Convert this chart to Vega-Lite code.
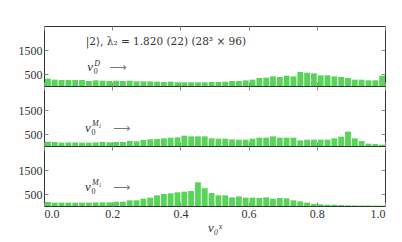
{
  "$schema": "https://vega.github.io/schema/vega-lite/v6.json",
  "padding": {"left": 5, "top": 25, "right": 18, "bottom": 5},
  "background": "white",
  "datasets": {
    "hist": [
      {"p":"D","x":0.00,"x2":0.02,"c":305},{"p":"D","x":0.02,"x2":0.04,"c":264},{"p":"D","x":0.04,"x2":0.06,"c":250},{"p":"D","x":0.06,"x2":0.08,"c":250},{"p":"D","x":0.08,"x2":0.10,"c":250},
      {"p":"D","x":0.10,"x2":0.12,"c":250},{"p":"D","x":0.12,"x2":0.14,"c":208},{"p":"D","x":0.14,"x2":0.16,"c":236},{"p":"D","x":0.16,"x2":0.18,"c":222},{"p":"D","x":0.18,"x2":0.20,"c":208},
      {"p":"D","x":0.20,"x2":0.22,"c":222},{"p":"D","x":0.22,"x2":0.24,"c":208},{"p":"D","x":0.24,"x2":0.26,"c":222},{"p":"D","x":0.26,"x2":0.28,"c":195},{"p":"D","x":0.28,"x2":0.30,"c":195},
      {"p":"D","x":0.30,"x2":0.32,"c":195},{"p":"D","x":0.32,"x2":0.34,"c":180},{"p":"D","x":0.34,"x2":0.36,"c":167},{"p":"D","x":0.36,"x2":0.38,"c":180},{"p":"D","x":0.38,"x2":0.40,"c":153},
      {"p":"D","x":0.40,"x2":0.42,"c":153},{"p":"D","x":0.42,"x2":0.44,"c":153},{"p":"D","x":0.44,"x2":0.46,"c":153},{"p":"D","x":0.46,"x2":0.48,"c":153},{"p":"D","x":0.48,"x2":0.50,"c":167},
      {"p":"D","x":0.50,"x2":0.52,"c":167},{"p":"D","x":0.52,"x2":0.54,"c":180},{"p":"D","x":0.54,"x2":0.56,"c":208},{"p":"D","x":0.56,"x2":0.58,"c":208},{"p":"D","x":0.58,"x2":0.60,"c":236},
      {"p":"D","x":0.60,"x2":0.62,"c":264},{"p":"D","x":0.62,"x2":0.64,"c":333},{"p":"D","x":0.64,"x2":0.66,"c":347},{"p":"D","x":0.66,"x2":0.68,"c":400},{"p":"D","x":0.68,"x2":0.70,"c":375},
      {"p":"D","x":0.70,"x2":0.72,"c":430},{"p":"D","x":0.72,"x2":0.74,"c":400},{"p":"D","x":0.74,"x2":0.76,"c":583},{"p":"D","x":0.76,"x2":0.78,"c":555},{"p":"D","x":0.78,"x2":0.80,"c":528},
      {"p":"D","x":0.80,"x2":0.82,"c":444},{"p":"D","x":0.82,"x2":0.84,"c":444},{"p":"D","x":0.84,"x2":0.86,"c":400},{"p":"D","x":0.86,"x2":0.88,"c":375},{"p":"D","x":0.88,"x2":0.90,"c":333},
      {"p":"D","x":0.90,"x2":0.92,"c":264},{"p":"D","x":0.92,"x2":0.94,"c":264},{"p":"D","x":0.94,"x2":0.96,"c":236},{"p":"D","x":0.96,"x2":0.98,"c":236},{"p":"D","x":0.98,"x2":1.00,"c":430},

      {"p":"A","x":0.00,"x2":0.02,"c":180},{"p":"A","x":0.02,"x2":0.04,"c":167},{"p":"A","x":0.04,"x2":0.06,"c":140},{"p":"A","x":0.06,"x2":0.08,"c":150},{"p":"A","x":0.08,"x2":0.10,"c":150},
      {"p":"A","x":0.10,"x2":0.12,"c":140},{"p":"A","x":0.12,"x2":0.14,"c":140},{"p":"A","x":0.14,"x2":0.16,"c":150},{"p":"A","x":0.16,"x2":0.18,"c":167},{"p":"A","x":0.18,"x2":0.20,"c":150},
      {"p":"A","x":0.20,"x2":0.22,"c":167},{"p":"A","x":0.22,"x2":0.24,"c":167},{"p":"A","x":0.24,"x2":0.26,"c":208},{"p":"A","x":0.26,"x2":0.28,"c":195},{"p":"A","x":0.28,"x2":0.30,"c":250},
      {"p":"A","x":0.30,"x2":0.32,"c":278},{"p":"A","x":0.32,"x2":0.34,"c":292},{"p":"A","x":0.34,"x2":0.36,"c":320},{"p":"A","x":0.36,"x2":0.38,"c":347},{"p":"A","x":0.38,"x2":0.40,"c":360},
      {"p":"A","x":0.40,"x2":0.42,"c":430},{"p":"A","x":0.42,"x2":0.44,"c":400},{"p":"A","x":0.44,"x2":0.46,"c":400},{"p":"A","x":0.46,"x2":0.48,"c":400},{"p":"A","x":0.48,"x2":0.50,"c":320},
      {"p":"A","x":0.50,"x2":0.52,"c":305},{"p":"A","x":0.52,"x2":0.54,"c":305},{"p":"A","x":0.54,"x2":0.56,"c":278},{"p":"A","x":0.56,"x2":0.58,"c":264},{"p":"A","x":0.58,"x2":0.60,"c":264},
      {"p":"A","x":0.60,"x2":0.62,"c":305},{"p":"A","x":0.62,"x2":0.64,"c":347},{"p":"A","x":0.64,"x2":0.66,"c":347},{"p":"A","x":0.66,"x2":0.68,"c":400},{"p":"A","x":0.68,"x2":0.70,"c":347},
      {"p":"A","x":0.70,"x2":0.72,"c":347},{"p":"A","x":0.72,"x2":0.74,"c":347},{"p":"A","x":0.74,"x2":0.76,"c":236},{"p":"A","x":0.76,"x2":0.78,"c":264},{"p":"A","x":0.78,"x2":0.80,"c":264},
      {"p":"A","x":0.80,"x2":0.82,"c":264},{"p":"A","x":0.82,"x2":0.84,"c":264},{"p":"A","x":0.84,"x2":0.86,"c":320},{"p":"A","x":0.86,"x2":0.88,"c":390},{"p":"A","x":0.88,"x2":0.90,"c":600},
      {"p":"A","x":0.90,"x2":0.92,"c":320},{"p":"A","x":0.92,"x2":0.94,"c":208},{"p":"A","x":0.94,"x2":0.96,"c":97},{"p":"A","x":0.96,"x2":0.98,"c":83},{"p":"A","x":0.98,"x2":1.00,"c":55},

      {"p":"B","x":0.00,"x2":0.02,"c":167},{"p":"B","x":0.02,"x2":0.04,"c":140},{"p":"B","x":0.04,"x2":0.06,"c":140},{"p":"B","x":0.06,"x2":0.08,"c":140},{"p":"B","x":0.08,"x2":0.10,"c":140},
      {"p":"B","x":0.10,"x2":0.12,"c":140},{"p":"B","x":0.12,"x2":0.14,"c":140},{"p":"B","x":0.14,"x2":0.16,"c":150},{"p":"B","x":0.16,"x2":0.18,"c":150},{"p":"B","x":0.18,"x2":0.20,"c":150},
      {"p":"B","x":0.20,"x2":0.22,"c":180},{"p":"B","x":0.22,"x2":0.24,"c":180},{"p":"B","x":0.24,"x2":0.26,"c":236},{"p":"B","x":0.26,"x2":0.28,"c":236},{"p":"B","x":0.28,"x2":0.30,"c":305},
      {"p":"B","x":0.30,"x2":0.32,"c":347},{"p":"B","x":0.32,"x2":0.34,"c":444},{"p":"B","x":0.34,"x2":0.36,"c":500},{"p":"B","x":0.36,"x2":0.38,"c":528},{"p":"B","x":0.38,"x2":0.40,"c":570},
      {"p":"B","x":0.40,"x2":0.42,"c":597},{"p":"B","x":0.42,"x2":0.44,"c":625},{"p":"B","x":0.44,"x2":0.46,"c":986},{"p":"B","x":0.46,"x2":0.48,"c":740},{"p":"B","x":0.48,"x2":0.50,"c":540},
      {"p":"B","x":0.50,"x2":0.52,"c":445},{"p":"B","x":0.52,"x2":0.54,"c":445},{"p":"B","x":0.54,"x2":0.56,"c":360},{"p":"B","x":0.56,"x2":0.58,"c":400},{"p":"B","x":0.58,"x2":0.60,"c":347},
      {"p":"B","x":0.60,"x2":0.62,"c":347},{"p":"B","x":0.62,"x2":0.64,"c":333},{"p":"B","x":0.64,"x2":0.66,"c":360},{"p":"B","x":0.66,"x2":0.68,"c":305},{"p":"B","x":0.68,"x2":0.70,"c":333},
      {"p":"B","x":0.70,"x2":0.72,"c":320},{"p":"B","x":0.72,"x2":0.74,"c":236},{"p":"B","x":0.74,"x2":0.76,"c":195},{"p":"B","x":0.76,"x2":0.78,"c":140},{"p":"B","x":0.78,"x2":0.80,"c":83},
      {"p":"B","x":0.80,"x2":0.82,"c":70},{"p":"B","x":0.82,"x2":0.84,"c":55},{"p":"B","x":0.84,"x2":0.86,"c":55},{"p":"B","x":0.86,"x2":0.88,"c":40},{"p":"B","x":0.88,"x2":0.90,"c":30},
      {"p":"B","x":0.90,"x2":0.92,"c":25},{"p":"B","x":0.92,"x2":0.94,"c":20},{"p":"B","x":0.94,"x2":0.96,"c":20},{"p":"B","x":0.96,"x2":0.98,"c":15},{"p":"B","x":0.98,"x2":1.00,"c":15}
    ],
    "labels": [
      {"p":"D","x":0.127,"y":780,"v":"v","sub":"0","sup":"D","arrow":"⟶"},
      {"p":"A","x":0.120,"y":767,"v":"v","sub":"0","sup":"M₁","arrow":"⟶"},
      {"p":"B","x":0.120,"y":790,"v":"v","sub":"0","sup":"M₁","arrow":"⟶"}
    ],
    "title": [
      {"x":0.1225,"y":1820,"t":"|2⟩,  λ₂ = 1.820 (22)  (28³ × 96)"}
    ]
  },
  "vconcat": [
    {
      "width": 341, "height": 60,
      "layer": [
        {
          "data": {"name": "hist"},
          "transform": [{"filter": "datum.p === 'D'"}],
          "mark": {"type": "bar", "color": "#58d458"},
          "encoding": {
            "x": {"field": "x", "type": "quantitative", "bin": {"binned": true, "step": 0.02}, "scale": {"domain": [0, 1], "nice": false},
                  "axis": {"orient": "bottom", "values": [0, 0.2, 0.4, 0.6, 0.8, 1], "labels": false, "title": null, "minExtent": 0, "maxExtent": 0}},
            "x2": {"field": "x2"},
            "y": {"field": "c", "type": "quantitative", "scale": {"domain": [0, 2500], "nice": false},
                  "axis": {"orient": "left", "values": [500, 1500], "format": "d", "title": null, "minExtent": 38, "maxExtent": 38}}
          }
        },
        {
          "data": {"name": "hist"},
          "transform": [{"filter": "datum.p === 'D'"}],
          "mark": {"type": "point", "opacity": 0},
          "encoding": {
            "x": {"field": "x", "type": "quantitative", "axis": {"orient": "top", "values": [0, 0.2, 0.4, 0.6, 0.8, 1], "labels": false, "title": null, "minExtent": 0, "maxExtent": 0}},
            "y": {"field": "c", "type": "quantitative", "axis": {"orient": "right", "values": [500, 1500], "labels": false, "title": null, "minExtent": 0, "maxExtent": 0}}
          }
        },
        {
          "data": {"name": "title"},
          "mark": {"type": "text", "align": "left", "baseline": "middle", "font": "DejaVu Serif", "fontSize": 10.5, "color": "#333"},
          "encoding": {
            "x": {"field": "x", "type": "quantitative", "axis": null},
            "y": {"field": "y", "type": "quantitative", "axis": null},
            "text": {"field": "t"}
          }
        },
        {
          "data": {"name": "labels"},
          "transform": [{"filter": "datum.p === 'D'"}],
          "layer": [
            {"mark": {"type": "text", "align": "left", "baseline": "middle", "font": "Liberation Serif", "fontStyle": "italic", "fontSize": 13, "color": "#333"},
             "encoding": {"text": {"field": "v"}}},
            {"mark": {"type": "text", "align": "left", "baseline": "middle", "font": "Liberation Serif", "fontSize": 8, "color": "#333", "dx": 6.5, "dy": 5},
             "encoding": {"text": {"field": "sub"}}},
            {"mark": {"type": "text", "align": "left", "baseline": "middle", "font": "Liberation Serif", "fontStyle": "italic", "fontSize": 8, "color": "#333", "dx": 7, "dy": -3.5},
             "encoding": {"text": {"field": "sup"}}},
            {"mark": {"type": "text", "align": "left", "baseline": "middle", "font": "DejaVu Sans", "fontSize": 12, "color": "#777", "dx": 22},
             "encoding": {"text": {"field": "arrow"}}}
          ],
          "encoding": {
            "x": {"field": "x", "type": "quantitative", "axis": null},
            "y": {"field": "y", "type": "quantitative", "axis": null}
          }
        }
      ],
      "resolve": {"axis": {"x": "independent", "y": "independent"}}
    },
    {
      "width": 341, "height": 60,
      "layer": [
        {
          "data": {"name": "hist"},
          "transform": [{"filter": "datum.p === 'A'"}],
          "mark": {"type": "bar", "color": "#58d458"},
          "encoding": {
            "x": {"field": "x", "type": "quantitative", "bin": {"binned": true, "step": 0.02}, "scale": {"domain": [0, 1], "nice": false},
                  "axis": {"orient": "bottom", "values": [0, 0.2, 0.4, 0.6, 0.8, 1], "labels": false, "title": null, "minExtent": 0, "maxExtent": 0}},
            "x2": {"field": "x2"},
            "y": {"field": "c", "type": "quantitative", "scale": {"domain": [0, 2500], "nice": false},
                  "axis": {"orient": "left", "values": [500, 1500], "format": "d", "title": null, "minExtent": 38, "maxExtent": 38}}
          }
        },
        {
          "data": {"name": "hist"},
          "transform": [{"filter": "datum.p === 'A'"}],
          "mark": {"type": "point", "opacity": 0},
          "encoding": {
            "x": {"field": "x", "type": "quantitative", "axis": {"orient": "top", "values": [0, 0.2, 0.4, 0.6, 0.8, 1], "labels": false, "title": null, "minExtent": 0, "maxExtent": 0}},
            "y": {"field": "c", "type": "quantitative", "axis": {"orient": "right", "values": [500, 1500], "labels": false, "title": null, "minExtent": 0, "maxExtent": 0}}
          }
        },
        {
          "data": {"name": "labels"},
          "transform": [{"filter": "datum.p === 'A'"}],
          "layer": [
            {"mark": {"type": "text", "align": "left", "baseline": "middle", "font": "Liberation Serif", "fontStyle": "italic", "fontSize": 13, "color": "#333"},
             "encoding": {"text": {"field": "v"}}},
            {"mark": {"type": "text", "align": "left", "baseline": "middle", "font": "Liberation Serif", "fontSize": 8, "color": "#333", "dx": 6.5, "dy": 5},
             "encoding": {"text": {"field": "sub"}}},
            {"mark": {"type": "text", "align": "left", "baseline": "middle", "font": "Liberation Serif", "fontStyle": "italic", "fontSize": 8, "color": "#333", "dx": 7, "dy": -4},
             "encoding": {"text": {"field": "sup"}}},
            {"mark": {"type": "text", "align": "left", "baseline": "middle", "font": "DejaVu Sans", "fontSize": 12, "color": "#777", "dx": 28},
             "encoding": {"text": {"field": "arrow"}}}
          ],
          "encoding": {
            "x": {"field": "x", "type": "quantitative", "axis": null},
            "y": {"field": "y", "type": "quantitative", "axis": null}
          }
        }
      ],
      "resolve": {"axis": {"x": "independent", "y": "independent"}}
    },
    {
      "width": 341, "height": 60,
      "layer": [
        {
          "data": {"name": "hist"},
          "transform": [{"filter": "datum.p === 'B'"}],
          "mark": {"type": "bar", "color": "#58d458"},
          "encoding": {
            "x": {"field": "x", "type": "quantitative", "bin": {"binned": true, "step": 0.02}, "scale": {"domain": [0, 1], "nice": false},
                  "axis": {"orient": "bottom", "values": [0, 0.2, 0.4, 0.6, 0.8, 1], "format": ".1f", "title": "v₀ˣ", "titleFontStyle": "italic", "titleFontWeight": "normal", "titleFontSize": 13, "titleColor": "#333", "titlePadding": 2}},
            "x2": {"field": "x2"},
            "y": {"field": "c", "type": "quantitative", "scale": {"domain": [0, 2500], "nice": false},
                  "axis": {"orient": "left", "values": [500, 1500], "format": "d", "title": null, "minExtent": 38, "maxExtent": 38}}
          }
        },
        {
          "data": {"name": "hist"},
          "transform": [{"filter": "datum.p === 'B'"}],
          "mark": {"type": "point", "opacity": 0},
          "encoding": {
            "x": {"field": "x", "type": "quantitative", "axis": {"orient": "top", "values": [0, 0.2, 0.4, 0.6, 0.8, 1], "labels": false, "title": null, "minExtent": 0, "maxExtent": 0}},
            "y": {"field": "c", "type": "quantitative", "axis": {"orient": "right", "values": [500, 1500], "labels": false, "title": null, "minExtent": 0, "maxExtent": 0}}
          }
        },
        {
          "data": {"name": "labels"},
          "transform": [{"filter": "datum.p === 'B'"}],
          "layer": [
            {"mark": {"type": "text", "align": "left", "baseline": "middle", "font": "Liberation Serif", "fontStyle": "italic", "fontSize": 13, "color": "#333"},
             "encoding": {"text": {"field": "v"}}},
            {"mark": {"type": "text", "align": "left", "baseline": "middle", "font": "Liberation Serif", "fontSize": 8, "color": "#333", "dx": 6.5, "dy": 5},
             "encoding": {"text": {"field": "sub"}}},
            {"mark": {"type": "text", "align": "left", "baseline": "middle", "font": "Liberation Serif", "fontStyle": "italic", "fontSize": 8, "color": "#333", "dx": 7, "dy": -4},
             "encoding": {"text": {"field": "sup"}}},
            {"mark": {"type": "text", "align": "left", "baseline": "middle", "font": "DejaVu Sans", "fontSize": 12, "color": "#777", "dx": 28},
             "encoding": {"text": {"field": "arrow"}}}
          ],
          "encoding": {
            "x": {"field": "x", "type": "quantitative", "axis": null},
            "y": {"field": "y", "type": "quantitative", "axis": null}
          }
        }
      ],
      "resolve": {"axis": {"x": "independent", "y": "independent"}}
    }
  ],
  "bounds": "flush",
  "spacing": 0,
  "config": {
    "view": {"stroke": "#333", "strokeWidth": 1},
    "bar": {"binSpacing": 1},
    "axis": {
      "grid": false, "domain": false,
      "tickSize": -4, "tickColor": "#888", "tickWidth": 1,
      "labelFont": "Liberation Serif", "labelFontSize": 12, "labelColor": "#333", "labelPadding": 6,
      "titleFont": "Liberation Serif"
    }
  }
}
